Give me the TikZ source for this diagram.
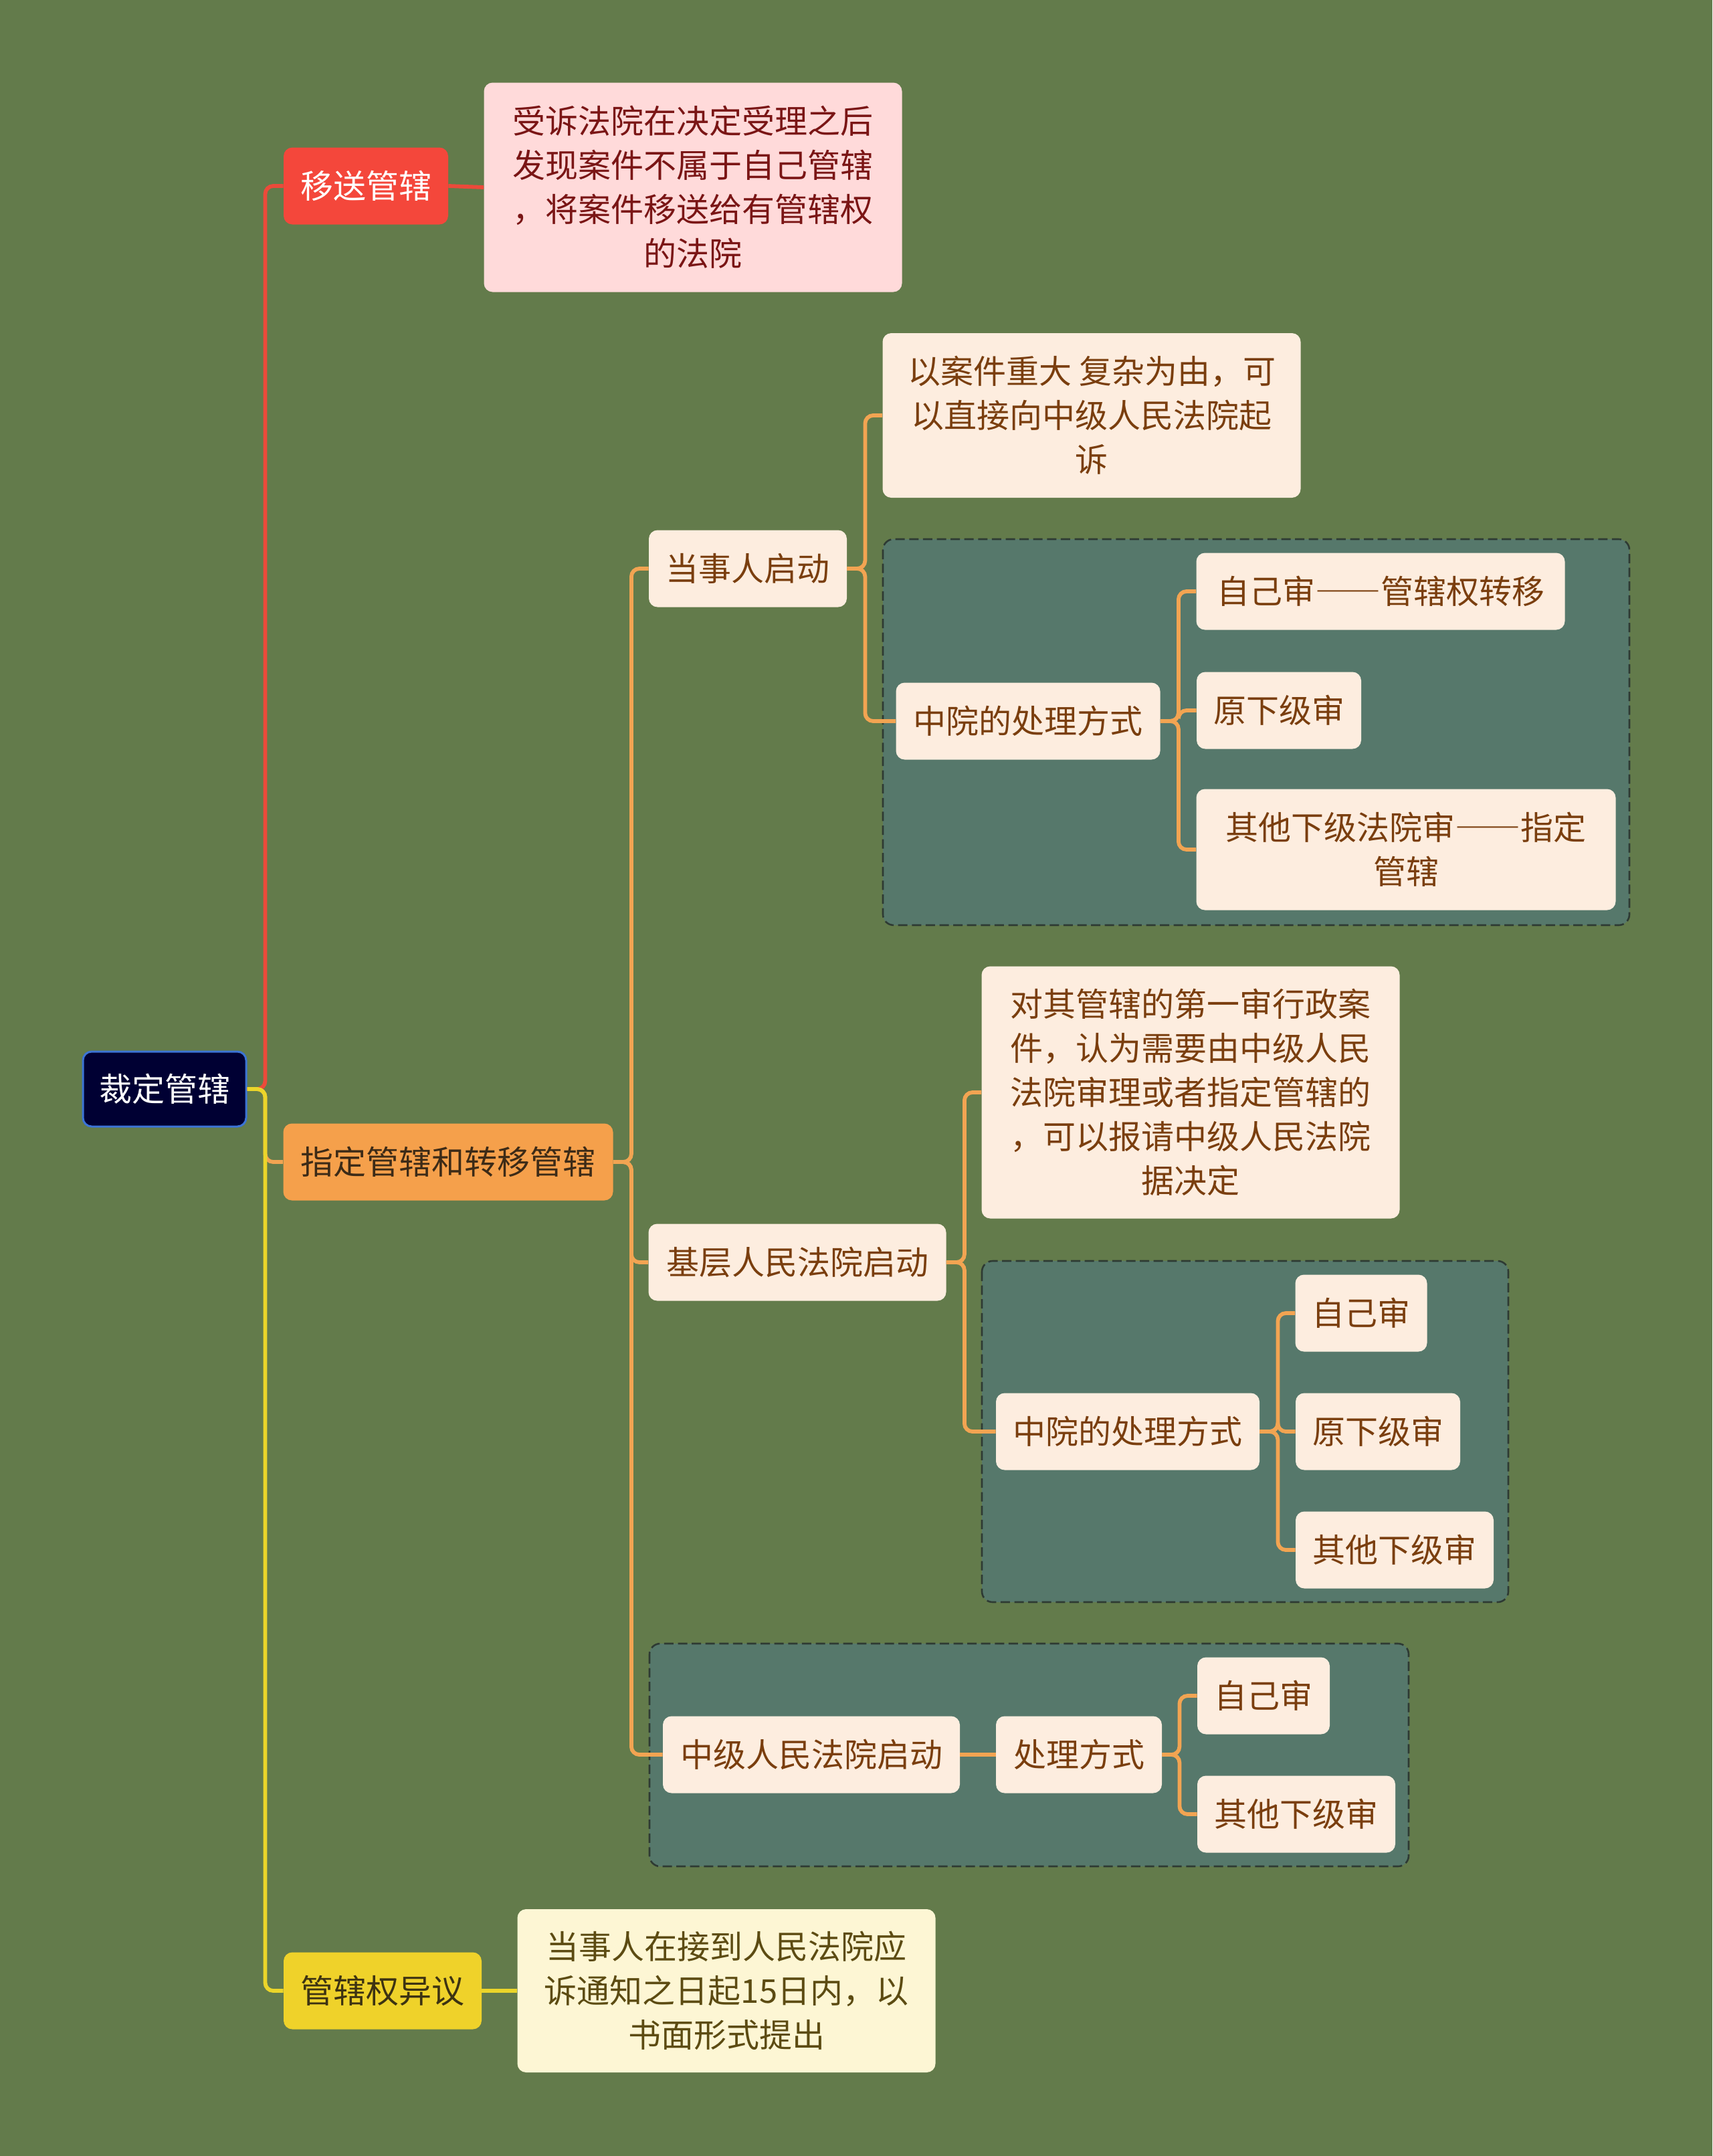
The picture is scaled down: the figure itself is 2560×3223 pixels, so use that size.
\documentclass[tikz,border=0pt]{standalone}
\usepackage{fontspec}
\setmainfont{Noto Sans CJK SC}
\usepackage{tikz}

\definecolor{bg}{HTML}{637B4B}
\definecolor{grpbg}{HTML}{56786B}
\definecolor{grpline}{HTML}{2E3A33}
\definecolor{leafbg}{HTML}{FDEDDF}
\definecolor{leaftxt}{HTML}{7A3E0E}
\definecolor{rootbg}{HTML}{000033}
\definecolor{rootline}{HTML}{3C74D6}
\definecolor{ysbg}{HTML}{F4473B}
\definecolor{pinkbg}{HTML}{FFDADA}
\definecolor{pinktxt}{HTML}{7A1515}
\definecolor{zdbg}{HTML}{F5A04B}
\definecolor{zdtxt}{HTML}{3D2B17}
\definecolor{gybg}{HTML}{EFD22A}
\definecolor{gytxt}{HTML}{3D3312}
\definecolor{gynotebg}{HTML}{FDF6D4}
\definecolor{gynotetxt}{HTML}{5C4B12}
\definecolor{redline}{HTML}{EC4A3A}
\definecolor{orangeline}{HTML}{F2A452}
\definecolor{yellowline}{HTML}{EBD52A}

% full-width dashes
\newcommand{\fwdash}{{\addfontfeature{RawFeature=+fwid}——}}

\begin{document}
\begin{tikzpicture}[x=0.5pt, y=-0.5pt,
  box/.style={rectangle, rounded corners=6.5pt, inner sep=0pt, align=center,
    minimum height=57.5pt, font=\fontsize{24.5}{33}\selectfont},
  leaf/.style={box, fill=leafbg, text=leaftxt},
  link/.style={line width=2.9pt, rounded corners=6pt},
  grp/.style={draw=grpline, fill=grpbg, line width=1.3pt,
    dash pattern=on 7pt off 3.3pt, rounded corners=8pt}]
  \fill[bg] (0,0) rectangle (2560,3223);
  \useasboundingbox (0,0) rectangle (2560,3223);
  % dashed groups
  \draw[grp] (1320,806) rectangle (2436,1383);
  \draw[grp] (1468,1885) rectangle (2255,2395);
  \draw[grp] (971,2457) rectangle (2106,2790);
  % first level
  \node[box, fill=rootbg, draw=rootline, line width=1.5pt, text=white, minimum width=122pt, minimum height=56pt] (root) at (246,1628) {裁定管辖};
  \node[box, fill=ysbg, text=white, minimum width=123pt] (ys) at (547,278) {移送管辖};
  \node[box, fill=pinkbg, text=pinktxt, minimum width=312.5pt, minimum height=156.5pt] (ysnote) at (1036,280) {受诉法院在决定受理之后\\发现案件不属于自己管辖\\，将案件移送给有管辖权\\的法院};
  \node[box, fill=zdbg, text=zdtxt, minimum width=246.5pt] (zd) at (670,1737) {指定管辖和转移管辖};
  \node[box, fill=gybg, text=gytxt, minimum width=148pt] (gy) at (572,2976) {管辖权异议};
  \node[box, fill=gynotebg, text=gynotetxt, minimum width=312.5pt, minimum height=122pt] (gynote) at (1086,2976) {当事人在接到人民法院应\\诉通知之日起15日内，以\\书面形式提出};
  % party starts
  \node[leaf, minimum width=148pt] (dsr) at (1118,850) {当事人启动};
  \node[leaf, minimum width=312.5pt, minimum height=123pt] (dsrnote) at (1632,621) {以案件重大 复杂为由，可\\以直接向中级人民法院起\\诉};
  \node[leaf, minimum width=197.5pt] (zya) at (1537,1078) {中院的处理方式};
  \node[leaf, minimum width=275.5pt] (zya1) at (2064,884) {自己审\fwdash 管辖权转移};
  \node[leaf, minimum width=123pt] (zya2) at (1912,1062) {原下级审};
  \node[leaf, minimum width=313.5pt, minimum height=90.5pt] (zya3) at (2102,1270) {其他下级法院审\fwdash 指定\\管辖};
  % basic court starts
  \node[leaf, minimum width=222.5pt] (jc) at (1192,1887) {基层人民法院启动};
  \node[leaf, minimum width=312.5pt, minimum height=188.5pt] (jcnote) at (1780,1633) {对其管辖的第一审行政案\\件，认为需要由中级人民\\法院审理或者指定管辖的\\，可以报请中级人民法院\\据决定};
  \node[leaf, minimum width=197pt] (zyb) at (1686,2140) {中院的处理方式};
  \node[leaf, minimum width=98.5pt] (zyb1) at (2035,1963) {自己审};
  \node[leaf, minimum width=123pt] (zyb2) at (2060,2140) {原下级审};
  \node[leaf, minimum width=148pt] (zyb3) at (2085,2317) {其他下级审};
  % intermediate court starts
  \node[leaf, minimum width=222pt] (zj) at (1213,2623) {中级人民法院启动};
  \node[leaf, minimum width=124pt] (cl) at (1613,2623) {处理方式};
  \node[leaf, minimum width=99pt] (cl1) at (1889,2535) {自己审};
  \node[leaf, minimum width=148pt] (cl2) at (1938,2712) {其他下级审};
  % connectors
  \draw[link, redline] (root.east) -- ++(27,0) |- (ys.west);
  \draw[link, redline] (ys.east) -- (ysnote.west);
  \draw[link, orangeline] (root.east) -- ++(27,0) |- (zd.west);
  \draw[link, yellowline] (root.east) -- ++(27,0) |- (gy.west);
  \draw[link, yellowline] (gy.east) -- (gynote.west);
  \foreach \c in {dsr,jc,zj}
    \draw[link, orangeline] (zd.east) -- ++(27,0) |- (\c.west);
  \foreach \c in {dsrnote,zya}
    \draw[link, orangeline] (dsr.east) -- ++(27,0) |- (\c.west);
  \foreach \c in {zya1,zya2,zya3}
    \draw[link, orangeline] (zya.east) -- ++(27,0) |- (\c.west);
  \foreach \c in {jcnote,zyb}
    \draw[link, orangeline] (jc.east) -- ++(27,0) |- (\c.west);
  \foreach \c in {zyb1,zyb2,zyb3}
    \draw[link, orangeline] (zyb.east) -- ++(27,0) |- (\c.west);
  \draw[link, orangeline] (zj.east) -- (cl.west);
  \foreach \c in {cl1,cl2}
    \draw[link, orangeline] (cl.east) -- ++(26,0) |- (\c.west);
\end{tikzpicture}
\end{document}
